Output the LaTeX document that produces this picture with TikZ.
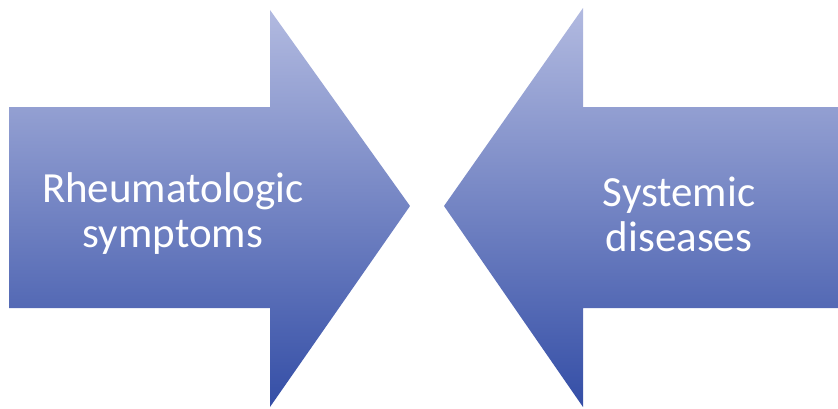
\documentclass[tikz,border=0pt]{standalone}
\usepackage{fontspec}
\setmainfont{Carlito}
\usepackage{tikz}
\usetikzlibrary{shadings}

\definecolor{flechaclara}{RGB}{178,186,224}
\definecolor{flechaoscura}{RGB}{52,78,166}

\begin{document}
\begin{tikzpicture}[x=1pt, y=1pt,
		flecha/.style={top color=flechaclara, bottom color=flechaoscura, draw=none},
		rotulo/.style={text=white, align=center, font=\fontsize{43}{45}\selectfont}]
		\useasboundingbox (0, 0) rectangle (838, 408);
		
		% Flechas
		\shade[flecha] (9, 100) -- (270, 100) -- (270, 1) -- (410, 202) -- (270, 398) -- (270, 301) -- (9, 301) -- cycle;
		\shade[flecha] (838, 100) -- (583, 100) -- (583, 1) -- (444, 202) -- (583, 400) -- (583, 301) -- (838, 301) -- cycle;
		
		% Textos
		\node[rotulo] (reuma) at (173, 194) {Rheumatologic\\symptoms};
		\node[rotulo] (sistema) at (679, 194) {Systemic\\diseases};
	\end{tikzpicture}
\end{document}
